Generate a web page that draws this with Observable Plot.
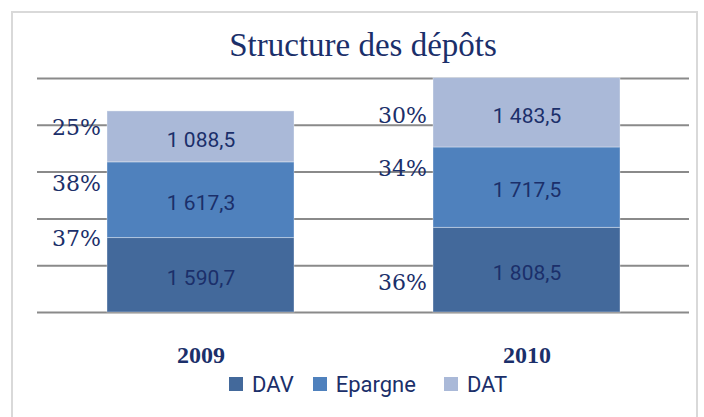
<!DOCTYPE html>
<html>
<head>
<meta charset="utf-8">
<script src="https://cdn.jsdelivr.net/npm/d3@7"></script>
<script src="https://cdn.jsdelivr.net/npm/@observablehq/plot@0.6"></script>
<style>
  html, body { margin: 0; padding: 0; background: #fff; }
  #wrap { position: relative; width: 704px; height: 417px; overflow: hidden; background: #fff; }
  #frame { position: absolute; left: 11px; top: 11px; width: 687px; height: 420px; border: 2px solid #d9d9d9; box-sizing: border-box; }
  #title { position: absolute; left: 37px; width: 652px; top: 29px; text-align: center; font-family: "Liberation Serif", serif; font-size: 33px; line-height: 33px; color: #1b2f6a; white-space: nowrap; }
  #chart { position: absolute; left: 0; top: 70px; }
  #legend { position: absolute; left: 229px; top: 372px; height: 24px; display: flex; align-items: center; font-family: Roboto, sans-serif; font-size: 22px; color: #1b2f6a; }
  .item { display: flex; align-items: center; }
  .sw { width: 14px; height: 14px; margin-right: 9px; }
</style>
</head>
<body>
<div id="wrap">
  <div id="frame"></div>
  <div id="title"></div>
  <div id="chart"></div>
  <div id="legend"></div>
</div>
<script>
const titleText = "Structure des dépôts";
const years = ["2009", "2010"];
const series = ["DAV", "Epargne", "DAT"];
const colors = ["#43699b", "#4f81bd", "#aab9d8"];
const dav = [1590.7, 1808.5];
const epargne = [1617.3, 1717.5];
const dat = [1088.5, 1483.5];
const pct2009 = ["37%", "38%", "25%"];
const pct2010 = ["36%", "34%", "30%"];
const pctAt2009 = [1571, 2746, 3953];
const pctAt2010 = [641, 3077, 4210];
const yTicks = [0, 1000, 2000, 3000, 4000, 5000];

const navy = "#1b2f6a";
const locale = d3.formatLocale({decimal: ",", thousands: " ", grouping: [3], currency: ["", ""]});
const fmt = locale.format(",.1f");

const seriesValues = [dav, epargne, dat];
const data = [];
series.forEach((s, si) => years.forEach((y, yi) => data.push({year: y, series: s, value: seriesValues[si][yi]})));

const pctData = [];
[pct2009, pct2010].forEach((labels, yi) => {
  const at = yi === 0 ? pctAt2009 : pctAt2010;
  labels.forEach((l, i) => pctData.push({year: years[yi], label: l, at: at[i]}));
});

document.getElementById("title").textContent = titleText;

const chart = Plot.plot({
  width: 704,
  height: 300,
  marginLeft: 37,
  marginRight: 15,
  marginTop: 8,
  marginBottom: 58,
  style: {fontFamily: "Liberation Serif", fontSize: "24px", fontWeight: "bold", color: navy, background: "transparent", overflow: "visible"},
  x: {domain: years, paddingInner: 0.427, paddingOuter: 0.2135, tickSize: 0, tickPadding: 33, label: null},
  y: {domain: [0, 5000], axis: null},
  color: {domain: series, range: colors},
  marks: [
    Plot.ruleY(yTicks, {stroke: "#8a8a8a", strokeWidth: 2}),
    Plot.barY(data, {x: "year", y: "value", fill: "series", stroke: "white", strokeOpacity: 0.35, strokeWidth: 1}),
    Plot.text(data, Plot.stackY({x: "year", y: "value", z: "series", text: d => fmt(d.value), fill: navy, fontFamily: "Roboto", fontSize: 21, fontWeight: "normal", dy: 3})),
    Plot.text(pctData, {x: "year", y: "at", text: "label", textAnchor: "end", dx: -100, fill: navy, fontFamily: "DejaVu Serif", fontSize: 22, fontWeight: "normal"})
  ]
});
document.getElementById("chart").appendChild(chart);

const legend = document.getElementById("legend");
const gaps = [19, 28, 0];
series.forEach((s, i) => {
  const item = document.createElement("div");
  item.className = "item";
  item.style.marginRight = gaps[i] + "px";
  const sw = document.createElement("div");
  sw.className = "sw";
  sw.style.background = colors[i];
  const t = document.createElement("span");
  t.textContent = s;
  item.appendChild(sw);
  item.appendChild(t);
  legend.appendChild(item);
});
</script>
</body>
</html>
